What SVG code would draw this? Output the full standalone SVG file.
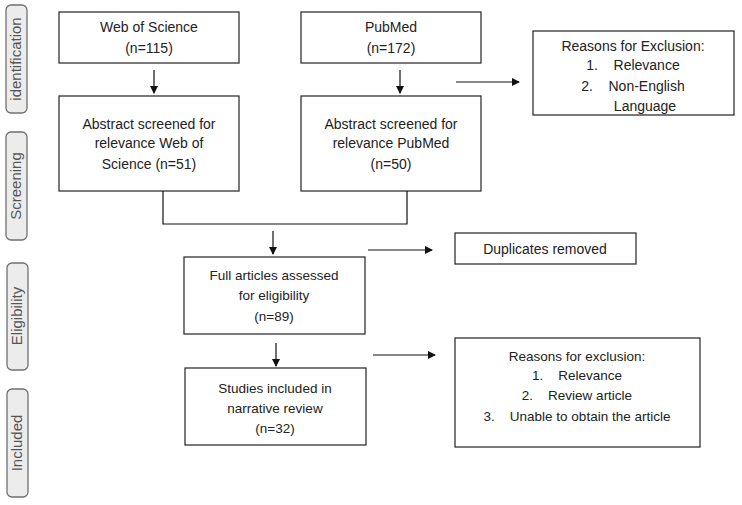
<svg xmlns="http://www.w3.org/2000/svg" width="742" height="505" viewBox="0 0 742 505">
<style>
.box{fill:#fff;stroke:#333;stroke-width:1.3}
.pill{fill:#ececec;stroke:#707070;stroke-width:1.3}
.t{font-family:"Liberation Sans",Arial,sans-serif;font-size:14px;fill:#222;text-anchor:middle;white-space:pre}
.n{font-family:"Liberation Sans",Arial,sans-serif;font-size:13.5px;fill:#222;text-anchor:middle;white-space:pre}
.s{font-family:"Liberation Sans",Arial,sans-serif;font-size:15px;fill:#555;text-anchor:middle}
.c{fill:none;stroke:#111;stroke-width:1.2}
</style>
<defs><marker id="a" markerWidth="8" markerHeight="8" refX="7" refY="4" orient="auto" markerUnits="userSpaceOnUse"><path d="M0,0 L8,4 L0,8 z" fill="#111"/></marker></defs>
<g id="stages">
<rect class="pill" x="6" y="5" width="21" height="108" rx="5"/><text class="s" transform="translate(21,59) rotate(-90)">identification</text>
<rect class="pill" x="6" y="132" width="21" height="108" rx="5"/><text class="s" transform="translate(21,186) rotate(-90)">Screening</text>
<rect class="pill" x="7" y="263" width="21" height="107" rx="5"/><text class="s" transform="translate(22,316) rotate(-90)">Eligibility</text>
<rect class="pill" x="7" y="389" width="21" height="108" rx="5"/><text class="s" transform="translate(22,443) rotate(-90)">Included</text>
</g>
<g id="wos"><rect class="box" x="59" y="12" width="180" height="51"/><text class="t" x="149" y="32">Web of Science</text><text class="t" x="149" y="53">(n=115)</text></g>
<g id="pubmed"><rect class="box" x="301" y="12" width="180" height="51"/><text class="t" x="391" y="32">PubMed</text><text class="t" x="391" y="53">(n=172)</text></g>
<g id="abs-wos"><rect class="box" x="59" y="96" width="180" height="95"/><text class="t" x="149" y="129">Abstract screened for</text><text class="t" x="149" y="148">relevance Web of</text><text class="t" x="149" y="169">Science (n=51)</text></g>
<g id="abs-pm"><rect class="box" x="301" y="96" width="180" height="95"/><text class="t" x="391" y="129">Abstract screened for</text><text class="t" x="391" y="148">relevance PubMed</text><text class="t" x="391" y="169">(n=50)</text></g>
<g id="excl1"><rect class="box" x="533" y="31" width="201" height="84"/><text class="t" x="633" y="51">Reasons for Exclusion:</text><text class="t" x="633" y="70">1.    Relevance</text><text class="t" x="633" y="91">2.    Non-English</text><text class="t" x="645" y="111">Language</text></g>
<g id="dup"><rect class="box" x="455" y="233" width="181" height="31"/><text class="t" x="545" y="254">Duplicates removed</text></g>
<g id="full"><rect class="box" x="184" y="257" width="181" height="77"/><text class="n" x="274" y="280">Full articles assessed</text><text class="n" x="274" y="300">for eligibility</text><text class="n" x="274" y="321">(n=89)</text></g>
<g id="incl"><rect class="box" x="185" y="368" width="181" height="77"/><text class="n" x="275" y="393">Studies included in</text><text class="n" x="275" y="413">narrative review</text><text class="n" x="275" y="433">(n=32)</text></g>
<g id="excl2"><rect class="box" x="455" y="338" width="245" height="109"/><text class="n" x="577" y="361">Reasons for exclusion:</text><text class="n" x="577" y="380">1.    Relevance</text><text class="n" x="577" y="400">2.    Review article</text><text class="n" x="577" y="421">3.    Unable to obtain the article</text></g>
<g id="connectors">
<line class="c" x1="154" y1="70" x2="154" y2="93" marker-end="url(#a)"/>
<line class="c" x1="400" y1="70" x2="400" y2="93" marker-end="url(#a)"/>
<line class="c" x1="456" y1="82" x2="519" y2="82" marker-end="url(#a)"/>
<polyline class="c" points="163,191 163,224 407,224 407,191"/>
<line class="c" x1="273" y1="231" x2="273" y2="254" marker-end="url(#a)"/>
<line class="c" x1="368" y1="250" x2="432" y2="250" marker-end="url(#a)"/>
<line class="c" x1="276" y1="343" x2="276" y2="366" marker-end="url(#a)"/>
<line class="c" x1="373" y1="355" x2="435" y2="355" marker-end="url(#a)"/>
</g>
</svg>
